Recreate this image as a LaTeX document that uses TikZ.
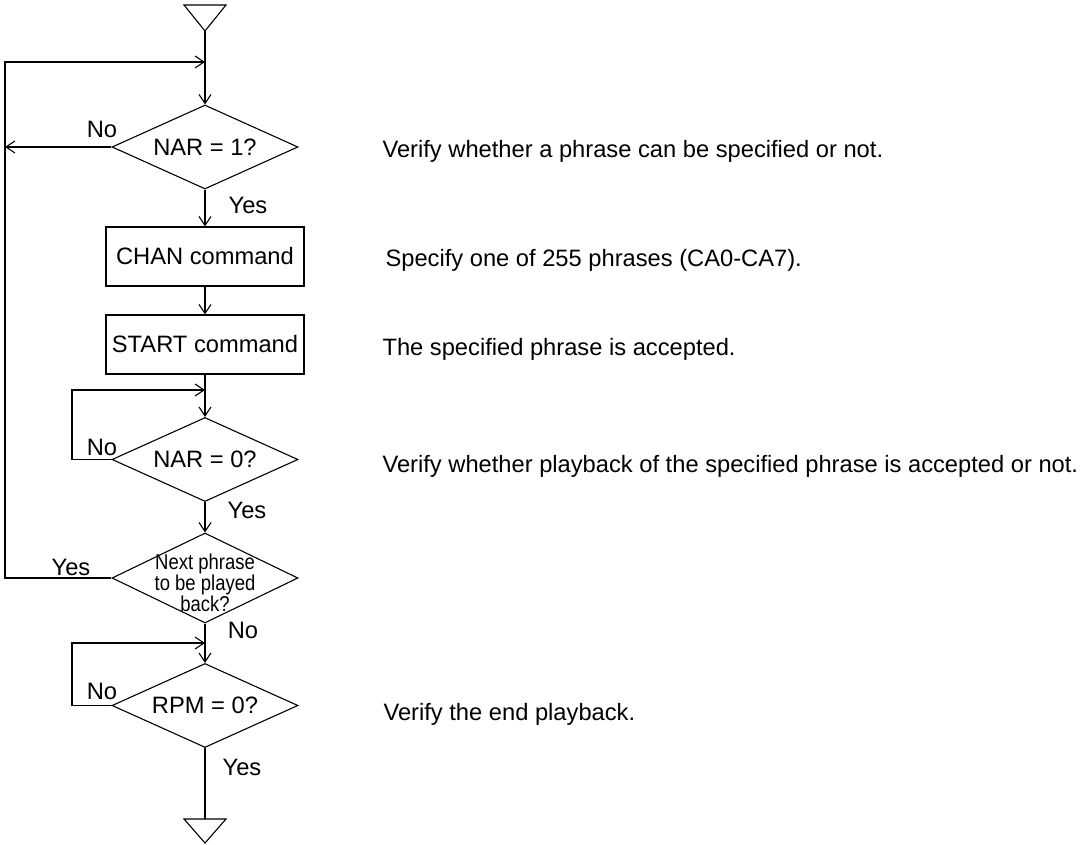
\documentclass[tikz,border=0pt]{standalone}
\usepackage{fontspec}
\setmainfont{Liberation Sans}
\newfontfamily\narrowfont[FakeStretch=0.86]{Liberation Sans}
\usetikzlibrary{shapes.geometric,arrows.meta}
\begin{document}
\begin{tikzpicture}[x=1pt,y=-1pt,
  line width=1.1pt,
  every node/.style={font=\fontsize{23.7}{26}\selectfont, inner sep=0pt},
  dia/.style={draw, diamond, minimum width=186pt, minimum height=84pt, aspect=2.2},
  box/.style={draw, rectangle, minimum width=198pt, minimum height=59pt},
  arr/.style={-{Straight Barb[length=9pt,width=12pt]}},
  note/.style={anchor=base west}]
\useasboundingbox (0,0) rectangle (1082,845);

% top terminal
\coordinate (t1) at (205,31);
\draw (t1) -- ++(-21,-26) -- ++(42,0) -- cycle;

\coordinate (L) at (5,0);
\coordinate (L2) at (72,0);
\coordinate (j1) at (205,62);
\coordinate (j2) at (205,390);
\coordinate (j3) at (205,643);

\node[dia] (d1) at (205,147) {NAR = 1?};
\node[box] (chan) at (205,256.5) {CHAN command};
\node[box] (start) at (205,344.5) {START command};
\node[dia] (d2) at (205,459.5) {NAR = 0?};
\node[dia, minimum height=90pt] (d3) at (205,578) {};
\node[align=center, font=\narrowfont\fontsize{21.5}{21}\selectfont] (d3t) at (205,583) {Next phrase\\to be played\\back?};
\node[dia] (d4) at (205,705.5) {RPM = 0?};

% bottom terminal
\coordinate (t2) at (205,819);
\draw (t2) -- ++(-21,0) -- ++(21,24) -- ++(21,-24) -- cycle;

% connectors
\draw[arr] (t1) -- (d1.north);
\draw[arr] (d1.west) -- (d1.west -| L);
\draw[arr] (d3.west) -- (d3.west -| L) |- (j1);
\draw[arr] (d1.south) -- (chan.north);
\draw[arr] (chan.south) -- (start.north);
\draw[arr] (start.south) -- (d2.north);
\draw[arr] (d2.west) -- (d2.west -| L2) |- (j2);
\draw[arr] (d2.south) -- (d3.north);
\draw[arr] (d3.south) -- (d4.north);
\draw[arr] (d4.west) -- (d4.west -| L2) |- (j3);
\draw (d4.south) -- (t2);

% branch labels
\node (n1) at (102,129) {No};
\node (y1) at (248,205) {Yes};
\node (n2) at (102,447) {No};
\node (y2) at (247,510) {Yes};
\node (y3) at (71,567) {Yes};
\node (n3) at (243,630) {No};
\node (n4) at (102,691) {No};
\node (y4) at (242,767) {Yes};

% notes
\node[note] (c1) at (382,158) {Verify whether a phrase can be specified or not.};
\node[note] (c2) at (385,266) {Specify one of 255 phrases (CA0-CA7).};
\node[note] (c3) at (382,355) {The specified phrase is accepted.};
\node[note] (c4) at (382,472) {Verify whether playback of the specified phrase is accepted or not.};
\node[note] (c5) at (383,720) {Verify the end playback.};
\end{tikzpicture}
\end{document}
